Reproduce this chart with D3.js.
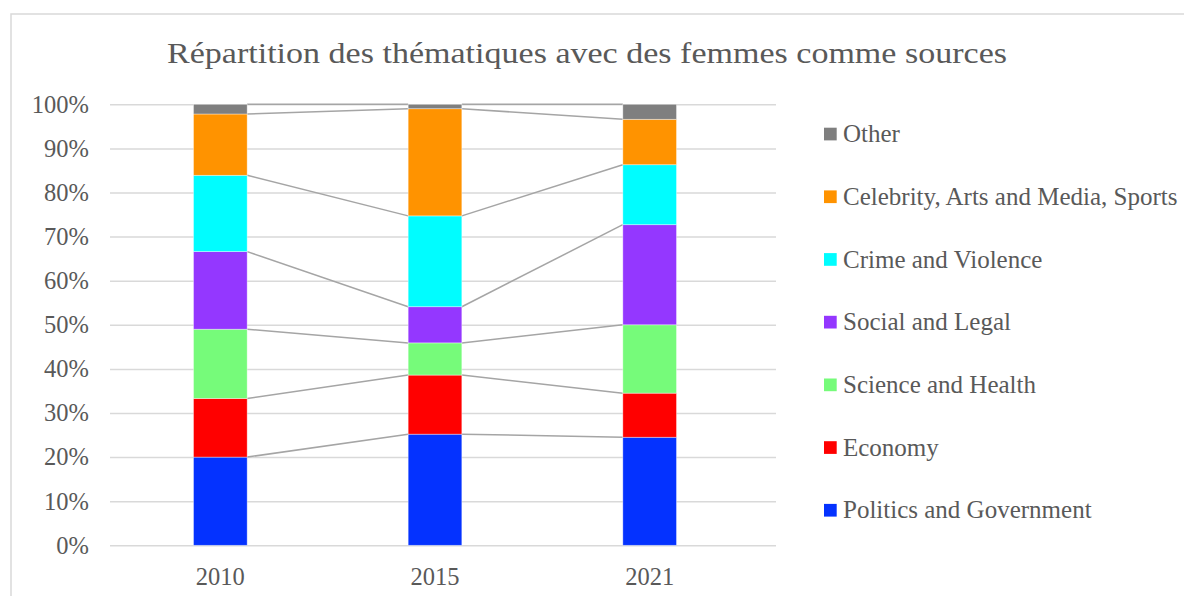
<!DOCTYPE html>
<html>
<head>
<meta charset="utf-8">
<script src="https://cdn.jsdelivr.net/npm/d3@7"></script>
<style>
  body { margin: 0; background: #fff; }
  text { font-family: "Liberation Serif", serif; fill: #595959; }
</style>
</head>
<body>
<div id="chart"></div>
<script>
// values, in % of the themes per year
const years = ["2010", "2015", "2021"];
const categories = ["Politics and Government", "Economy", "Science and Health", "Social and Legal",
  "Crime and Violence", "Celebrity, Arts and Media, Sports", "Other"];
const politics = [20.0, 25.2, 24.5];
const economy = [13.3, 13.4, 10.0];
const science = [15.7, 7.3, 15.5];
const social = [17.6, 8.2, 22.7];
const crime = [17.3, 20.6, 13.6];
const celebrity = [13.9, 24.3, 10.3];
const other = [2.2, 1.0, 3.4];
const yTicks = [0, 10, 20, 30, 40, 50, 60, 70, 80, 90, 100];
const colors = ["#0432FF", "#FF0000", "#76FB7A", "#9437FF", "#00FDFF", "#FF9300", "#7F7F7F"];

const svgWidth = 1184;
const svgHeight = 596;
const plot = { left: 110, right: 776, top: 104.3, bottom: 545.3 };

const series = [politics, economy, science, social, crime, celebrity, other];
const rows = years.map((y, i) => {
  const r = { year: y };
  categories.forEach((c, k) => r[c] = series[k][i]);
  return r;
});
const stacked = d3.stack().keys(categories)(rows);

const svg = d3.select("#chart")
  .append("svg")
  .attr("width", svgWidth)
  .attr("height", svgHeight);

// chart frame
svg.append("rect")
  .attr("x", 11).attr("y", 14)
  .attr("width", svgWidth + 20).attr("height", svgHeight + 20)
  .attr("fill", "none")
  .attr("stroke", "#D9D9D9")
  .attr("stroke-width", 1.5);

const xScale = d3.scaleBand()
  .domain(years)
  .range([113, 757])
  .paddingInner(0.75)
  .paddingOuter(0.375);

const yScale = d3.scaleLinear()
  .domain([0, 100])
  .range([plot.bottom, plot.top]);

// y axis with gridlines
const yAxis = svg.append("g")
  .attr("transform", `translate(${plot.left},0)`)
  .call(d3.axisLeft(yScale)
    .tickValues(yTicks)
    .tickFormat(d => d + "%")
    .tickSizeInner(-(plot.right - plot.left))
    .tickSizeOuter(0)
    .tickPadding(21));
yAxis.select(".domain").remove();
yAxis.selectAll("line").attr("stroke", "#D9D9D9").attr("stroke-width", 1.5);
yAxis.selectAll("text").style("font-size", "24.5px").attr("fill", "#595959");

// x axis labels
const xAxis = svg.append("g")
  .attr("transform", `translate(0,${plot.bottom})`)
  .call(d3.axisBottom(xScale).tickSize(0).tickPadding(22));
xAxis.select(".domain").remove();
xAxis.selectAll("text").style("font-size", "24.5px").attr("fill", "#595959");

// series lines between bars
const bw = xScale.bandwidth();
stacked.forEach(layer => {
  for (let j = 0; j < years.length - 1; j++) {
    svg.append("line")
      .attr("x1", xScale(years[j]) + bw)
      .attr("y1", yScale(layer[j][1]))
      .attr("x2", xScale(years[j + 1]))
      .attr("y2", yScale(layer[j + 1][1]))
      .attr("stroke", "#A5A5A5")
      .attr("stroke-width", 1.5);
  }
});

// stacked bars
svg.selectAll(".layer")
  .data(stacked)
  .enter()
  .append("g")
  .attr("class", "layer")
  .attr("fill", (d, i) => colors[i])
  .selectAll("rect")
  .data(d => d)
  .enter()
  .append("rect")
  .attr("x", d => xScale(d.data.year))
  .attr("y", d => yScale(d[1]))
  .attr("width", bw)
  .attr("height", d => yScale(d[0]) - yScale(d[1]))
  .attr("stroke", "#ffffff")
  .attr("stroke-opacity", 0.5)
  .attr("stroke-width", 0.75);

// legend, top to bottom = last series first
const legend = svg.append("g").attr("class", "legend");
categories.slice().reverse().forEach((c, i) => {
  const g = legend.append("g").attr("transform", `translate(824,${134 + i * 62.7})`);
  g.append("rect")
    .attr("x", 0).attr("y", -6.3)
    .attr("width", 12.7).attr("height", 12.7)
    .attr("fill", colors[categories.length - 1 - i]);
  g.append("text")
    .attr("x", 19).attr("y", 0)
    .attr("dy", "0.33em")
    .style("font-size", "25px")
    .text(c);
});

// title
svg.append("text")
  .attr("x", 587)
  .attr("y", 63)
  .attr("text-anchor", "middle")
  .attr("textLength", 840)
  .attr("lengthAdjust", "spacingAndGlyphs")
  .style("font-size", "30px")
  .text("Répartition des thématiques avec des femmes comme sources");
</script>
</body>
</html>
